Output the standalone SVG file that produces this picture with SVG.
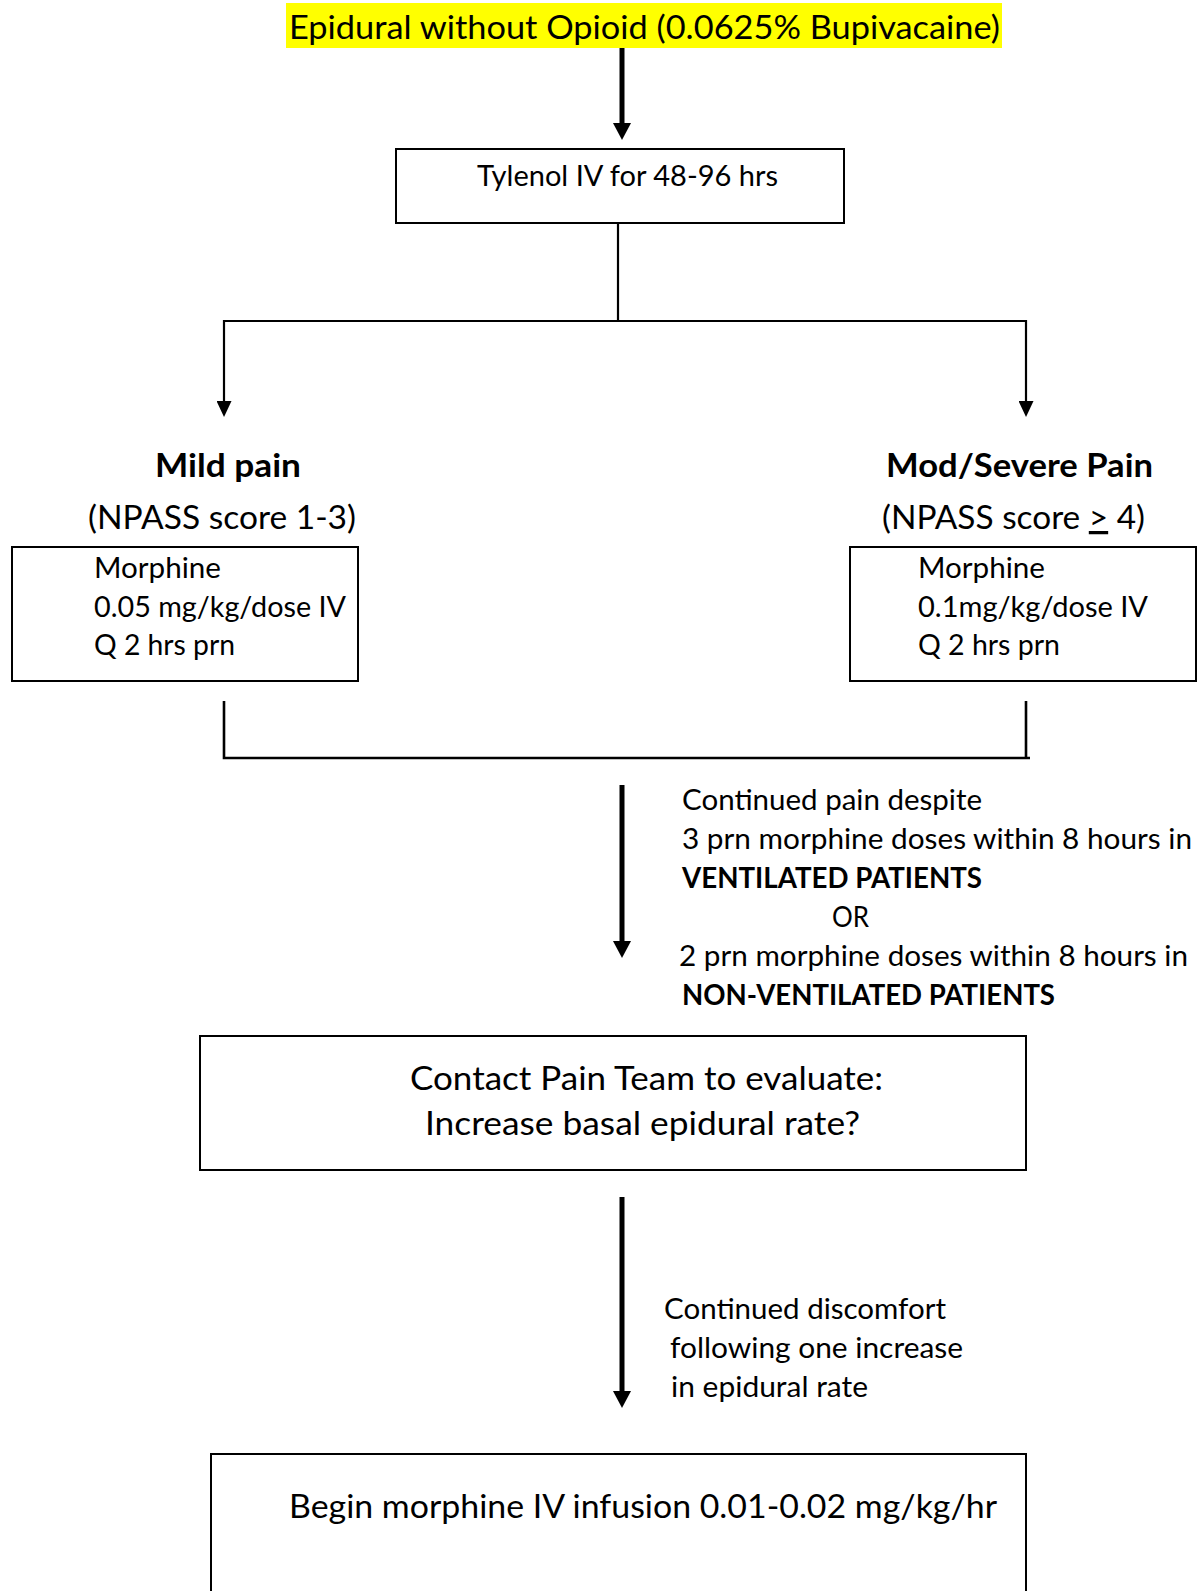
<svg xmlns="http://www.w3.org/2000/svg" width="1197" height="1591" viewBox="0 0 1197 1591">
  <style>
    .t { font-family: Lato, "Open Sans", "Liberation Sans", sans-serif; fill: #000; }
    .l { font-size: 32.5px; }
    .m { font-size: 28.5px; }
    .b { font-weight: bold; }
    .box { fill: #fff; stroke: #000; stroke-width: 2; }
    .thick { stroke: #000; stroke-width: 5; fill: none; }
    .thin { stroke: #000; stroke-width: 2.2; fill: none; }
    .u { text-decoration: underline; }
  </style>
  <defs>
    <marker id="headBig" markerUnits="userSpaceOnUse" viewBox="0 0 17 18" markerWidth="17" markerHeight="18" refX="0" refY="9" orient="auto">
      <path d="M0,0 L17,9 L0,18 z" fill="#000"/>
    </marker>
    <marker id="headSmall" markerUnits="userSpaceOnUse" viewBox="0 0 16 15" markerWidth="16" markerHeight="15" refX="0" refY="7.5" orient="auto">
      <path d="M0,0 L16,7.5 L0,15 z" fill="#000"/>
    </marker>
  </defs>
  <rect width="1197" height="1591" fill="#fff"/>

  <g id="connectors">
    <line class="thick" x1="622" y1="48" x2="622" y2="123" marker-end="url(#headBig)"/>
    <line class="thin" x1="618" y1="223" x2="618" y2="321"/>
    <line class="thin" x1="223" y1="321" x2="1027" y2="321"/>
    <line class="thin" x1="224" y1="320" x2="224" y2="401" marker-end="url(#headSmall)"/>
    <line class="thin" x1="1026" y1="320" x2="1026" y2="401" marker-end="url(#headSmall)"/>
    <path class="thin" d="M224,701 V758 H1030 M1026,701 V758" style="stroke-width:2.6"/>
    <line class="thick" x1="622" y1="785" x2="622" y2="941" marker-end="url(#headBig)"/>
    <line class="thick" x1="622" y1="1197" x2="622" y2="1391" marker-end="url(#headBig)"/>
  </g>

  <g id="start">
    <rect x="286" y="3" width="716" height="45" fill="#ffff00"/>
    <text class="t l" x="289" y="39" textLength="711" lengthAdjust="spacingAndGlyphs">Epidural without Opioid (0.0625% Bupivacaine)</text>
  </g>

  <g id="tylenol">
    <rect class="box" x="396" y="149" width="448" height="74"/>
    <text class="t m" x="477" y="185.5" textLength="301" lengthAdjust="spacingAndGlyphs">Tylenol IV for 48-96 hrs</text>
  </g>

  <g id="mild">
    <text class="t l b" x="155" y="476.5" textLength="146" lengthAdjust="spacingAndGlyphs">Mild pain</text>
    <text class="t l" x="88" y="529" textLength="268" lengthAdjust="spacingAndGlyphs">(NPASS score 1-3)</text>
    <rect class="box" x="12" y="547" width="346" height="134"/>
    <text class="t m" x="94" y="577.5" textLength="127" lengthAdjust="spacingAndGlyphs">Morphine</text>
    <text class="t m" x="94" y="616.5" textLength="252" lengthAdjust="spacingAndGlyphs">0.05 mg/kg/dose IV</text>
    <text class="t m" x="94" y="654.5" textLength="141" lengthAdjust="spacingAndGlyphs">Q 2 hrs prn</text>
  </g>

  <g id="severe">
    <text class="t l b" x="886" y="476.5" textLength="267" lengthAdjust="spacingAndGlyphs">Mod/Severe Pain</text>
    <text class="t l" x="882" y="529" textLength="263" lengthAdjust="spacingAndGlyphs">(NPASS score <tspan class="u">&gt;</tspan> 4)</text>
    <rect class="box" x="850" y="547" width="346" height="134"/>
    <text class="t m" x="918" y="577.5" textLength="127" lengthAdjust="spacingAndGlyphs">Morphine</text>
    <text class="t m" x="918" y="616.5" textLength="230" lengthAdjust="spacingAndGlyphs">0.1mg/kg/dose IV</text>
    <text class="t m" x="918" y="654.5" textLength="142" lengthAdjust="spacingAndGlyphs">Q 2 hrs prn</text>
  </g>

  <g id="condition1">
    <text class="t m" x="682" y="810" textLength="300" lengthAdjust="spacingAndGlyphs">Continued pain despite</text>
    <text class="t m" x="682" y="849" textLength="510" lengthAdjust="spacingAndGlyphs">3 prn morphine doses within 8 hours in</text>
    <text class="t m b" x="682" y="888" textLength="300" lengthAdjust="spacingAndGlyphs">VENTILATED PATIENTS</text>
    <text class="t m" x="832" y="927" textLength="37" lengthAdjust="spacingAndGlyphs">OR</text>
    <text class="t m" x="679" y="966" textLength="509" lengthAdjust="spacingAndGlyphs">2 prn morphine doses within 8 hours in</text>
    <text class="t m b" x="682" y="1005" textLength="373" lengthAdjust="spacingAndGlyphs">NON-VENTILATED PATIENTS</text>
  </g>

  <g id="contact">
    <rect class="box" x="200" y="1036" width="826" height="134"/>
    <text class="t l" x="410" y="1090" textLength="473" lengthAdjust="spacingAndGlyphs">Contact Pain Team to evaluate:</text>
    <text class="t l" x="425" y="1135" textLength="435" lengthAdjust="spacingAndGlyphs">Increase basal epidural rate?</text>
  </g>

  <g id="condition2">
    <text class="t m" x="664" y="1318.5" textLength="282" lengthAdjust="spacingAndGlyphs">Continued discomfort</text>
    <text class="t m" x="670" y="1357.5" textLength="293" lengthAdjust="spacingAndGlyphs">following one increase</text>
    <text class="t m" x="671" y="1396.5" textLength="197" lengthAdjust="spacingAndGlyphs">in epidural rate</text>
  </g>

  <g id="infusion">
    <rect class="box" x="211" y="1454" width="815" height="160"/>
    <text class="t l" x="289" y="1518" textLength="708" lengthAdjust="spacingAndGlyphs">Begin morphine IV infusion 0.01-0.02 mg/kg/hr</text>
  </g>
</svg>
